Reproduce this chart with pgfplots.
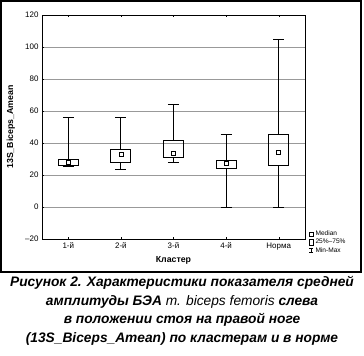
\documentclass[border=0pt]{standalone}
\usepackage{fontspec}
\setmainfont{Liberation Sans}
\usepackage{pgfplots}
\pgfplotsset{compat=1.18}
\usepgfplotslibrary{statistics}
\begin{document}
\begin{tikzpicture}
\useasboundingbox (0bp,0bp) rectangle (364bp,-356bp);
\draw[line width=1.1bp] (1bp,-1bp) rectangle (361bp,-272bp);
\begin{axis}[
 at={(42bp,-239bp)}, anchor=south west,
 scale only axis, width=263bp, height=224bp,
 xmin=0.5,xmax=5.5,ymin=-20,ymax=120,
 xtick={1,...,5}, xticklabels={1-й,2-й,3-й,4-й,Норма},
 ytick={-20,0,...,120}, yticklabels={–20,0,20,40,60,80,100,120},
 ytick pos=left,
 ymajorgrids, grid style={gray!80, line width=0.8bp},
 major tick length=2bp,
 tick style={black},
 axis line style={line width=0.9bp},
 ticklabel style={font=\fontsize{8}{9}\selectfont},
 xlabel={Кластер}, ylabel={13S\_Biceps\_Amean},
 label style={font=\bfseries\fontsize{8.8}{10}\selectfont},
 xlabel style={at={(axis description cs:0.5,-0.094)},anchor=center},
 ylabel style={at={(axis description cs:-0.118,0.5)},anchor=center},
 boxplot/draw direction=y,
 boxplot/box extend=0.38,
 boxplot/whisker extend=0.21,
 boxplot/every median/.style={draw=none},
 legend style={at={(1.015,-0.075)}, anchor=south west, draw=none, fill=none,
   font=\fontsize{6.6}{7}\selectfont, row sep=-2pt, inner sep=0pt,
   /tikz/every even column/.append style={column sep=1bp}},
 legend cell align=left,
]
\addplot+[forget plot, black, solid, line width=0.9bp, mark=none, boxplot prepared={draw position=1, lower whisker=25.6, lower quartile=26.2, median=27.9, upper quartile=30, upper whisker=56.2}] coordinates {};
\addplot+[forget plot, black, solid, line width=0.9bp, mark=none, boxplot prepared={draw position=2, lower whisker=23.7, lower quartile=27.9, median=32.7, upper quartile=36.2, upper whisker=56.2}] coordinates {};
\addplot+[forget plot, black, solid, line width=0.9bp, mark=none, boxplot prepared={draw position=3, lower whisker=28.1, lower quartile=31.2, median=33.7, upper quartile=41.9, upper whisker=64.4}] coordinates {};
\addplot+[forget plot, black, solid, line width=0.9bp, mark=none, boxplot prepared={draw position=4, lower whisker=0, lower quartile=24.4, median=27, upper quartile=29.4, upper whisker=45.6}] coordinates {};
\addplot+[forget plot, black, solid, line width=0.9bp, mark=none, boxplot prepared={draw position=5, lower whisker=0, lower quartile=26.2, median=34.4, upper quartile=45.4, upper whisker=105}] coordinates {};
\addplot[forget plot, only marks, mark=square*, mark size=2bp, mark options={fill=white, draw=black, line width=0.8bp}] coordinates {(1,27.9)(2,32.7)(3,33.7)(4,27)(5,34.4)};
\addlegendimage{legend image code/.code={\draw[line width=0.6bp] (0bp,-1.9bp) rectangle (3.8bp,1.9bp);}}
\addlegendentry{Median}
\addlegendimage{legend image code/.code={\draw[line width=0.6bp] (0bp,-2.8bp) rectangle (3.8bp,2.8bp);}}
\addlegendentry{25\%–75\%}
\addlegendimage{legend image code/.code={\draw[line width=0.6bp] (0bp,-2.3bp)--(3.8bp,-2.3bp) (1.9bp,-2.3bp)--(1.9bp,2.3bp) (0bp,2.3bp)--(3.8bp,2.3bp);}}
\addlegendentry{Min-Max}
\end{axis}
\node[anchor=north, align=center, font=\bfseries\itshape\fontsize{13.8}{18.5}\selectfont] at (182bp,-273bp) {Рисунок 2. Характеристики показателя средней\\ амплитуды БЭА {\mdseries m. biceps femoris} слева\\ в положении стоя на правой ноге\\ (13S\_Biceps\_Amean) по кластерам и в норме};
\end{tikzpicture}
\end{document}
